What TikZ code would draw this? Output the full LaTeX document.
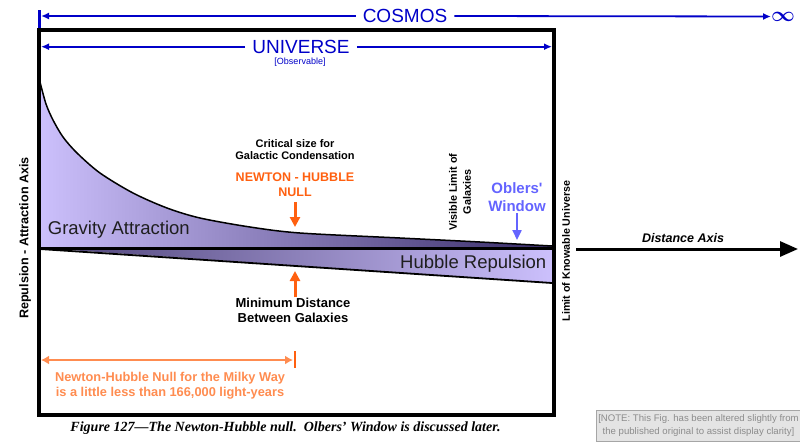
\documentclass[tikz,border=0pt]{standalone}
\usepackage{fontspec}
\setmainfont{Liberation Sans}
\newfontfamily\captionfont{Liberation Serif}
\usepackage{tikz}
\usetikzlibrary{arrows.meta, positioning}

\definecolor{cosmosblue}{RGB}{0,0,200}
\definecolor{nullorange}{RGB}{255,96,16}
\definecolor{milkyorange}{RGB}{255,140,80}
\definecolor{oblersblue}{RGB}{100,100,255}
\definecolor{lightlilac}{RGB}{204,192,252}
\definecolor{darklilac}{RGB}{56,44,104}
\definecolor{notegray}{RGB}{140,140,140}
\definecolor{noteback}{RGB}{228,228,228}

\begin{document}
\begin{tikzpicture}[x=1pt, y=-1pt,
    bluearrow/.style={draw=cosmosblue, line width=1.8pt, -{Latex[length=8pt,width=7pt]}},
    bluetext/.style={text=cosmosblue, inner sep=0pt, inner xsep=7pt, font=\fontsize{19}{19}\selectfont},
    nullarrow/.style={draw=nullorange, line width=3pt, -{Triangle[length=10pt,width=10pt]}},
    boldlabel/.style={align=center, inner sep=1pt, font=\bfseries\fontsize{#1}{#1}\selectfont},
    regionlabel/.style={inner sep=0pt, text=black!88, font=\fontsize{18.5}{18.5}\selectfont}]
    \useasboundingbox (0,0) rectangle (800,442);

    \shade[left color=lightlilac, right color=darklilac]
        plot[smooth] coordinates {(40,82) (46,104) (53,120) (63,137) (77,153) (100,173) (133,193)
        (167,208) (200,218) (250,227) (300,233) (400,238) (480,242) (552,246)}
        -- (552,248) -- (40,248) -- cycle;
    \shade[left color=darklilac!90, right color=lightlilac] (40,248) -- (552,248) -- (552,283) -- cycle;
    \draw[line width=1.5pt] plot[smooth] coordinates {(40,82) (46,104) (53,120) (63,137) (77,153)
        (100,173) (133,193) (167,208) (200,218) (250,227) (300,233) (400,238) (480,242) (552,246)};
    \draw[line width=1.8pt] (40,249) -- (552,283);
    \draw[line width=3pt] (40,248) -- (554,248);

    \draw[line width=3.6pt] (39.2,30) rectangle (554,415);

    \coordinate (cosmosleft) at (41,16);
    \draw[cosmosblue, line width=3pt] (39.2,10) -- (39.2,28);
    \node[bluetext] (cosmos) at (405,16) {COSMOS};
    \node[text=cosmosblue, inner sep=0pt, anchor=west, font=\boldmath\fontsize{21}{21}\selectfont] (infinity) at (771,16.5) {$\infty$};
    \draw[bluearrow] (cosmos.west) -- (cosmosleft);
    \draw[bluearrow] (cosmos.east) -- (infinity.west);

    \coordinate (universeleft) at (41,46.7);
    \coordinate (universeright) at (552,46.7);
    \node[bluetext] (universe) at (301,46.7) {UNIVERSE};
    \node[text=cosmosblue, inner sep=0pt, font=\fontsize{9}{9}\selectfont] (observable) at (300,62) {[Observable]};
    \draw[bluearrow] (universe.west) -- (universeleft);
    \draw[bluearrow] (universe.east) -- (universeright);

    \node[regionlabel, anchor=base west] (gravity) at (47.7,234.5) {Gravity Attraction};
    \node[regionlabel, anchor=base west] (hubble) at (400,268.5) {Hubble Repulsion};

    \node[boldlabel=11] (critical) at (295,149.5) {Critical size for\\[1.5pt] Galactic Condensation};
    \node[boldlabel=12.5, text=nullorange] (nullnote) at (295,184.5) {NEWTON - HUBBLE\\[2pt] NULL};
    \coordinate (nulltip) at (295,227);
    \draw[nullarrow] (295,202) -- (nulltip);

    \node[boldlabel=13] (mindist) at (293,310.5) {Minimum Distance\\[1.5pt] Between Galaxies};
    \coordinate (mintip) at (295,271);
    \draw[nullarrow] (mindist.north -| mintip) -- (mintip);

    \node[boldlabel=10.8, rotate=90] (visible) at (460,192) {Visible Limit of\\[3pt] Galaxies};
    \node[boldlabel=15, text=oblersblue] (oblers) at (517,197.5) {Oblers\textquotesingle\\[3pt] Window};
    \coordinate (oblerstip) at (517,240);
    \draw[draw=oblersblue, line width=2.3pt, -{Triangle[length=10pt,width=9pt]}] (oblers.south) -- (oblerstip);

    \node[boldlabel=10.7, rotate=90] (knowable) at (566,251) {Limit of Knowable Universe};
    \node[boldlabel=12.6, rotate=90] (repulsion) at (25,238) {Repulsion - Attraction Axis};

    \coordinate (distancestart) at (576,249);
    \coordinate (distanceend) at (798,249);
    \draw[line width=3pt, -{Triangle[length=18pt,width=15pt]}] (distancestart) -- (distanceend);
    \node[boldlabel=12.5, font=\bfseries\itshape\fontsize{12.5}{12.5}\selectfont] (distance) at (683,238) {Distance Axis};

    \coordinate (milkyleft) at (41,360);
    \coordinate (milkyright) at (293,360);
    \draw[draw=milkyorange, line width=2.5pt, {Latex[length=8pt,width=9pt]}-{Latex[length=8pt,width=9pt]}] (milkyleft) -- (milkyright);
    \draw[draw=nullorange, line width=1.8pt] (295,351) -- (295,368);
    \node[boldlabel=12.8, text=milkyorange] (milkyway) at (170,385.5) {Newton-Hubble Null for the Milky Way\\[2pt] is a little less than 166,000 light-years};

    \node[inner sep=0pt, font=\captionfont\bfseries\itshape\fontsize{14}{14}\selectfont] (caption) at (285.5,428) {Figure 127—The Newton-Hubble null.\ \ Olbers’ Window is discussed later.};

    \node[draw=black!35, line width=1.5pt, fill=noteback, text=notegray, align=center, inner sep=2pt,
        minimum width=201pt, minimum height=31pt, font=\fontsize{9.6}{13}\selectfont] (note) at (698.5,426)
        {[NOTE: This Fig. has been altered slightly from\\the published original to assist display clarity]};
\end{tikzpicture}
\end{document}
